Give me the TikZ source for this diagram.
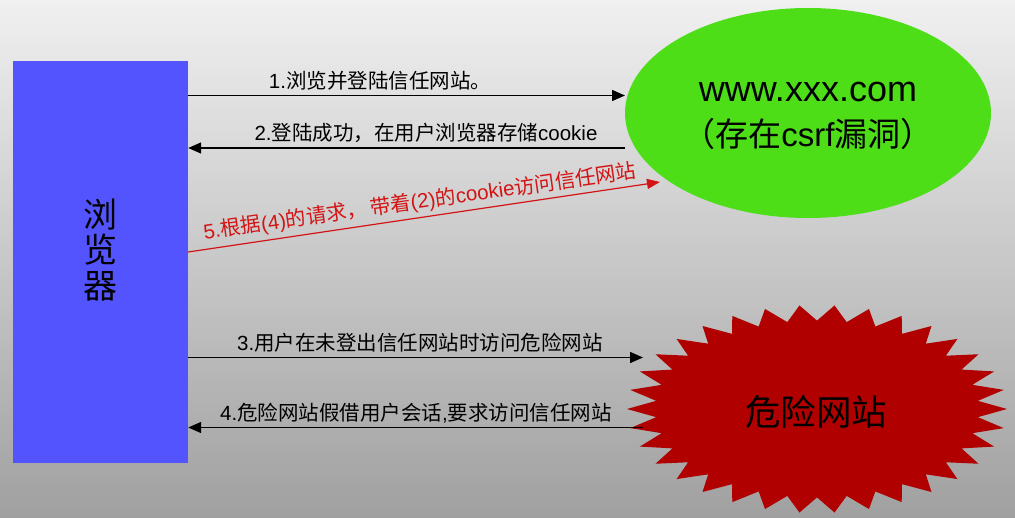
\documentclass[tikz,border=0pt]{standalone}
\usepackage{fontspec}
\setmainfont{Liberation Sans}
\newfontfamily\cjk{Noto Sans CJK SC}
\newcommand\zh[1]{{\cjk #1}}
\usetikzlibrary{arrows.meta,shapes.geometric}
\definecolor{bgtop}{RGB}{240,240,240}
\definecolor{bgmid}{RGB}{208,208,208}
\definecolor{bgbot}{RGB}{160,160,160}
\definecolor{browserblue}{RGB}{84,84,255}
\definecolor{sitegreen}{RGB}{77,222,24}
\definecolor{burstred}{RGB}{176,0,0}
\definecolor{arrred}{RGB}{212,20,20}
\begin{document}
\begin{tikzpicture}[x=1pt,y=-1pt,
  lbl/.style={font=\fontsize{20.5}{24}\selectfont, inner sep=0pt, text=black},
  redlbl/.style={lbl, text=arrred},
  arr/.style={line width=1.4pt, draw=black, -{Triangle[length=13pt,width=11pt]}},
  redarr/.style={line width=1.2pt, draw=arrred, -{Triangle[length=13pt,width=10pt]}},
  bigtxt/.style={inner sep=0pt, text=black}]
\useasboundingbox (0,0) rectangle (1015,518);
\shade[top color=bgtop, middle color=bgmid, bottom color=bgbot] (0,0) rectangle (1015,518);

% browser
\node[fill=browserblue, minimum width=175pt, minimum height=401pt, inner sep=0pt] (browser) at (100.5,262) {};
\node[bigtxt, align=center, font=\fontsize{34}{35.5}\selectfont\cjk] (browsertxt) at (100,250) {浏\\览\\器};

% trusted site
\node[ellipse, fill=sitegreen, minimum width=366pt, minimum height=210pt, inner sep=0pt] (site) at (808,113) {};
\node[bigtxt, font=\fontsize{36}{40}\selectfont] (site1) at (808,92) {www.xxx.com};
\node[bigtxt, font=\fontsize{33}{38}\selectfont] (site2) at (808,134) {\zh{（存在}csrf\zh{漏洞）}};

% danger site (starburst)
\fill[burstred] (1007,409)
  \foreach \i in {1,...,67} {
    -- ({817+190*(1-0.15*mod(\i,2))*cos(\i*180/34)}, {409+104*(1-0.15*mod(\i,2))*sin(\i*180/34)})
  } -- cycle;
\node[bigtxt, font=\fontsize{35.5}{40}\selectfont\cjk] (danger) at (816,412) {危险网站};

% connector end points
\coordinate (e1) at (625,95.5);
\coordinate (e2) at (625,148);
\coordinate (e3) at (643,357.5);
\coordinate (e4) at (643,427.5);
\coordinate (e5s) at (188,252);
\coordinate (e5) at (660,182);

\draw[arr] (browser.east |- e1) -- (e1);
\draw[arr] (e2) -- (browser.east |- e2);
\draw[arr] (browser.east |- e3) -- (e3);
\draw[arr] (e4) -- (browser.east |- e4);
\draw[redarr] (browser.east |- e5s) -- (e5);

% labels
\node[lbl] (l1) at (380,81) {1.\zh{浏览并登陆信任网站。}};
\node[lbl] (l2) at (426,133) {2.\zh{登陆成功，在用户浏览器存储}cookie};
\node[lbl] (l3) at (420,343) {3.\zh{用户在未登出信任网站时访问危险网站}};
\node[lbl] (l4) at (416,413) {4.\zh{危险网站假借用户会话},\zh{要求访问信任网站}};
\node[redlbl, rotate=8.1] (l5) at (420,202) {5.\zh{根据}(4)\zh{的请求，}\hspace{3pt}\zh{带着}(2)\zh{的}cookie\zh{访问信任网站}};
\end{tikzpicture}
\end{document}
